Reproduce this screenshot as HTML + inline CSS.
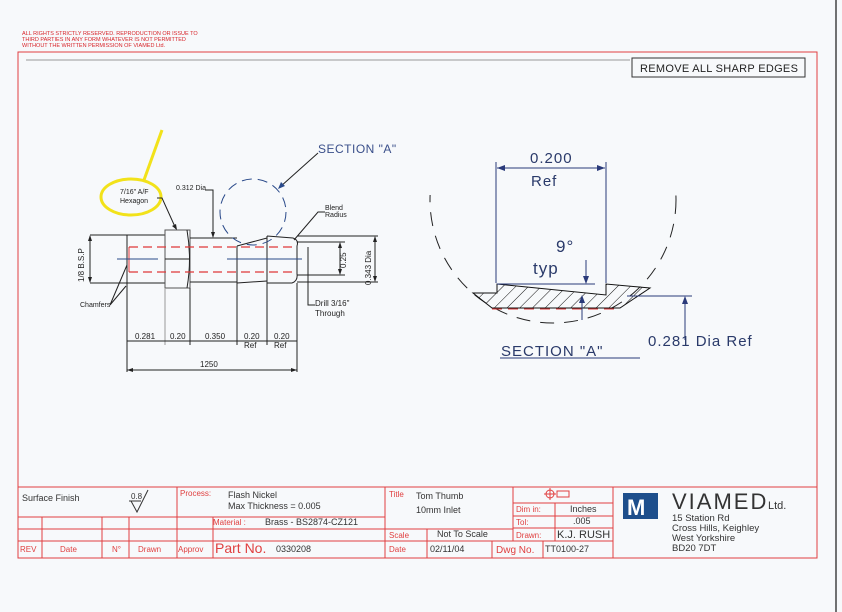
<!DOCTYPE html>
<html><head><meta charset="utf-8"><style>
html,body{margin:0;padding:0;background:#f7f9fb;}
svg{display:block;font-family:"Liberation Sans",sans-serif;}
</style></head><body>
<svg width="842" height="612" viewBox="0 0 842 612" xmlns="http://www.w3.org/2000/svg">
<rect width="842" height="612" fill="#f7f9fb"/>
<line x1="836" y1="0" x2="836" y2="612" stroke="#444" stroke-width="1.5"/>
<g fill="#d8252a" font-size="5.5">
<text x="22" y="35">ALL RIGHTS STRICTLY RESERVED. REPRODUCTION OR ISSUE TO</text>
<text x="22" y="41">THIRD PARTIES IN ANY FORM WHATEVER IS NOT PERMITTED</text>
<text x="22" y="47">WITHOUT THE WRITTEN PERMISSION OF VIAMED Ltd.</text>
</g>
<rect x="18" y="52" width="799" height="506" fill="none" stroke="#e04040" stroke-width="1"/>
<line x1="26" y1="60" x2="630" y2="60" stroke="#999" stroke-width="1"/>
<rect x="632" y="58" width="173" height="19" fill="none" stroke="#333" stroke-width="1"/>
<text x="640" y="72" font-size="11" fill="#222" letter-spacing="0.3">REMOVE ALL SHARP EDGES</text>

<g stroke="#f2e21a" stroke-width="3" fill="none">
<ellipse cx="131" cy="197" rx="30" ry="18"/>
<line x1="162" y1="130" x2="144" y2="180"/>
</g>

<g stroke="#222" stroke-width="1" fill="none">
<rect x="127" y="235" width="38" height="48"/>
<rect x="165" y="230" width="25" height="58" stroke="#555"/>
<path d="M187 230 Q192 259 187 288" />
<line x1="165" y1="259" x2="190" y2="259"/>
<line x1="190" y1="238" x2="237" y2="238"/>
<line x1="190" y1="282" x2="237" y2="282"/>
<path d="M237 246 L267 238 M237 283 L267 281 M237 246 L237 283"/>
<path d="M267 236 L267 283 M267 236 L293 238 Q299 240 297 246 L297 274 Q298 281 292 283 L267 283"/>
<line x1="297" y1="236" x2="378" y2="236"/>
<line x1="297" y1="282" x2="378" y2="282"/>
<line x1="90" y1="235" x2="127" y2="235"/>
<line x1="90" y1="283" x2="127" y2="283"/>
<line x1="90" y1="236" x2="90" y2="282"/>
<line x1="375" y1="237" x2="375" y2="281"/>
<line x1="297" y1="242" x2="345" y2="242"/>
<line x1="297" y1="275" x2="345" y2="275"/>
<line x1="340" y1="243" x2="340" y2="274"/>
<path d="M308 247 L308 305 L315 305"/>
<line x1="127" y1="283" x2="127" y2="372"/>
<line x1="165" y1="288" x2="165" y2="345" stroke="#999"/>
<line x1="190" y1="288" x2="190" y2="345"/>
<line x1="237" y1="283" x2="237" y2="345"/>
<line x1="267" y1="283" x2="267" y2="345"/>
<line x1="297" y1="283" x2="297" y2="372"/>
<line x1="127" y1="341" x2="297" y2="341"/>
<line x1="127" y1="370" x2="297" y2="370"/>
<path d="M157 198 L162 198 L176 229"/>
<path d="M205 190 L213 190 L213 237"/>
<path d="M325 212 L318 212 L294 240"/>
<path d="M110 305 L127 265 M110 305 L126 286"/>
<path d="M318 153 L280 187"/>
</g>
<g fill="#222">
<polygon points="90,235 88,241 92,241"/><polygon points="90,283 88,277 92,277"/>
<polygon points="375,236 373,242 377,242"/><polygon points="375,282 373,276 377,276"/>
<polygon points="340,242 338,248 342,248"/><polygon points="340,275 338,269 342,269"/>
<polygon points="213,238 211,232 215,232"/>
<polygon points="177,230 172,226 176,224"/>
<polygon points="127,370 133,368 133,372"/><polygon points="297,370 291,368 291,372"/>
<polygon points="278,189 281,182 285,186" fill="#2a4a8a"/>
</g>
<g stroke="#e03838" stroke-width="1.2" stroke-dasharray="9,5" fill="none">
<line x1="129" y1="247" x2="297" y2="247"/>
<line x1="129" y1="272" x2="297" y2="272"/>
</g>
<line x1="129" y1="247" x2="129" y2="272" stroke="#e03838"/>
<g stroke="#2a4a8a" stroke-width="1">
<line x1="117" y1="259" x2="158" y2="259"/>
<line x1="227" y1="259" x2="302" y2="259"/>
</g>
<circle cx="253" cy="212" r="33" fill="none" stroke="#2a4a8a" stroke-dasharray="10,6"/>
<g fill="#222" font-size="7">
<text x="120" y="194">7/16" A/F</text>
<text x="120" y="203">Hexagon</text>
<text x="176" y="190">0.312 Dia</text>
<text x="325" y="210">Blend</text>
<text x="325" y="217">Radius</text>
<text x="80" y="307">Chamfers</text>
<text x="315" y="306" font-size="8">Drill 3/16"</text>
<text x="315" y="316" font-size="8">Through</text>
<text x="135" y="339" font-size="8">0.281</text>
<text x="170" y="339" font-size="8">0.20</text>
<text x="205" y="339" font-size="8">0.350</text>
<text x="244" y="339" font-size="8">0.20</text>
<text x="274" y="339" font-size="8">0.20</text>
<text x="244" y="348" font-size="8">Ref</text>
<text x="274" y="348" font-size="8">Ref</text>
<text x="200" y="367" font-size="8">1250</text>
<text transform="translate(84,282) rotate(-90)" font-size="8">1/8  B.S.P</text>
<text transform="translate(346,268) rotate(-90)" font-size="8">0.25</text>
<text transform="translate(371,285) rotate(-90)" font-size="8">0.343  Dia</text>
</g>
<text x="318" y="153" font-size="12" fill="#3a4f8a" letter-spacing="0.5">SECTION "A"</text>

<defs>
<clipPath id="cp"><rect x="400" y="195" width="300" height="140"/></clipPath>
<pattern id="h" width="9" height="9" patternUnits="userSpaceOnUse" patternTransform="rotate(45)">
<line x1="0" y1="0" x2="0" y2="9" stroke="#111" stroke-width="1"/></pattern>
</defs>
<circle cx="553" cy="200" r="123" fill="none" stroke="#222" stroke-dasharray="14,10" clip-path="url(#cp)"/>
<polygon points="473,293 497,293 497,284 606,295 606,284 650,288 620,308 492,308" fill="url(#h)" stroke="#111"/>
<line x1="492" y1="309" x2="620" y2="309" stroke="#e03838" stroke-dasharray="10,6"/>
<g stroke="#2a3a7a" fill="none">
<line x1="496" y1="162" x2="496" y2="283"/>
<line x1="606" y1="162" x2="606" y2="283"/>
<line x1="497" y1="168" x2="605" y2="168"/>
<line x1="497" y1="284" x2="595" y2="284"/>
<line x1="586" y1="260" x2="586" y2="283"/>
<line x1="582" y1="320" x2="582" y2="296"/>
<line x1="627" y1="296" x2="692" y2="296"/>
<line x1="685" y1="340" x2="685" y2="297"/>
<line x1="500" y1="358" x2="640" y2="358"/>
</g>
<g fill="#2a3a7a">
<polygon points="497,168 505,165 505,171"/><polygon points="605,168 597,165 597,171"/>
<polygon points="586,284 583,276 589,276"/><polygon points="582,295 579,303 585,303"/>
<polygon points="685,296 682,304 688,304"/>
</g>
<g fill="#2a3a6a" font-size="15" letter-spacing="1">
<text x="530" y="163">0.200</text>
<text x="531" y="186">Ref</text>
<text x="556" y="252" font-size="17">9°</text>
<text x="533" y="274" font-size="17">typ</text>
<text x="648" y="346">0.281 Dia Ref</text>
<text x="501" y="356">SECTION "A"</text>
</g>

<g stroke="#e04040" stroke-width="1" fill="none">
<rect x="18" y="487" width="799" height="71"/>
<line x1="18" y1="517" x2="177" y2="517"/>
<line x1="18" y1="529" x2="385" y2="529"/>
<line x1="18" y1="541" x2="513" y2="541"/>
<line x1="177" y1="517" x2="385" y2="517"/>
<line x1="42" y1="517" x2="42" y2="558"/>
<line x1="102" y1="517" x2="102" y2="558"/>
<line x1="129" y1="517" x2="129" y2="558"/>
<line x1="177" y1="487" x2="177" y2="558"/>
<line x1="213" y1="517" x2="213" y2="558"/>
<line x1="385" y1="487" x2="385" y2="558"/>
<line x1="385" y1="529" x2="513" y2="529"/>
<line x1="427" y1="529" x2="427" y2="558"/>
<line x1="492" y1="541" x2="492" y2="558"/>
<line x1="543" y1="541" x2="543" y2="558"/>
<line x1="513" y1="487" x2="513" y2="541"/>
<line x1="513" y1="503" x2="613" y2="503"/>
<line x1="513" y1="516" x2="613" y2="516"/>
<line x1="513" y1="528" x2="613" y2="528"/>
<line x1="513" y1="541" x2="613" y2="541"/>
<line x1="555" y1="503" x2="555" y2="541"/>
<line x1="613" y1="487" x2="613" y2="558"/>
<circle cx="550" cy="494" r="4"/><line x1="550" y1="488" x2="550" y2="500"/><line x1="544" y1="494" x2="556" y2="494"/>
<rect x="557" y="491" width="12" height="6"/>
</g>
<g fill="#333" font-size="9">
<text x="22" y="501">Surface Finish</text>
<text x="131" y="499" font-size="8">0.8</text>
<text x="228" y="498">Flash Nickel</text>
<text x="228" y="509">Max Thickness = 0.005</text>
<text x="265" y="525">Brass - BS2874-CZ121</text>
<text x="276" y="552">0330208</text>
<text x="416" y="499">Tom Thumb</text>
<text x="416" y="513">10mm Inlet</text>
<text x="437" y="537">Not To Scale</text>
<text x="430" y="552">02/11/04</text>
<text x="545" y="552">TT0100-27</text>
<text x="570" y="512">Inches</text>
<text x="573" y="524">.005</text>
<text x="557" y="538" font-size="11">K.J. RUSH</text>
</g>
<path d="M131 501 L137 512 L148 490 M129 501 L141 501" stroke="#333" fill="none"/>
<g fill="#e04040" font-size="8">
<text x="180" y="496">Process:</text>
<text x="213" y="525">Material :</text>
<text x="20" y="552">REV</text>
<text x="60" y="552">Date</text>
<text x="112" y="552">N°</text>
<text x="138" y="552">Drawn</text>
<text x="178" y="552">Approv</text>
<text x="215" y="553" font-size="14">Part No.</text>
<text x="389" y="497">Title</text>
<text x="389" y="538">Scale</text>
<text x="389" y="552">Date</text>
<text x="496" y="553" font-size="10">Dwg No.</text>
<text x="516" y="512">Dim in:</text>
<text x="516" y="525">Tol:</text>
<text x="516" y="538">Drawn:</text>
</g>
<rect x="623" y="493" width="35" height="26" fill="#1e4f8c"/>
<text x="627" y="515" font-size="22" font-weight="bold" fill="#fff">M</text>
<text x="672" y="509" font-size="22" fill="#333" letter-spacing="2">VIAMED</text>
<text x="768" y="509" font-size="11" fill="#333">Ltd.</text>
<g fill="#333" font-size="9.5">
<text x="672" y="521">15 Station Rd</text>
<text x="672" y="531">Cross Hills, Keighley</text>
<text x="672" y="541">West Yorkshire</text>
<text x="672" y="551">BD20 7DT</text>
</g>
</svg>
</body></html>
